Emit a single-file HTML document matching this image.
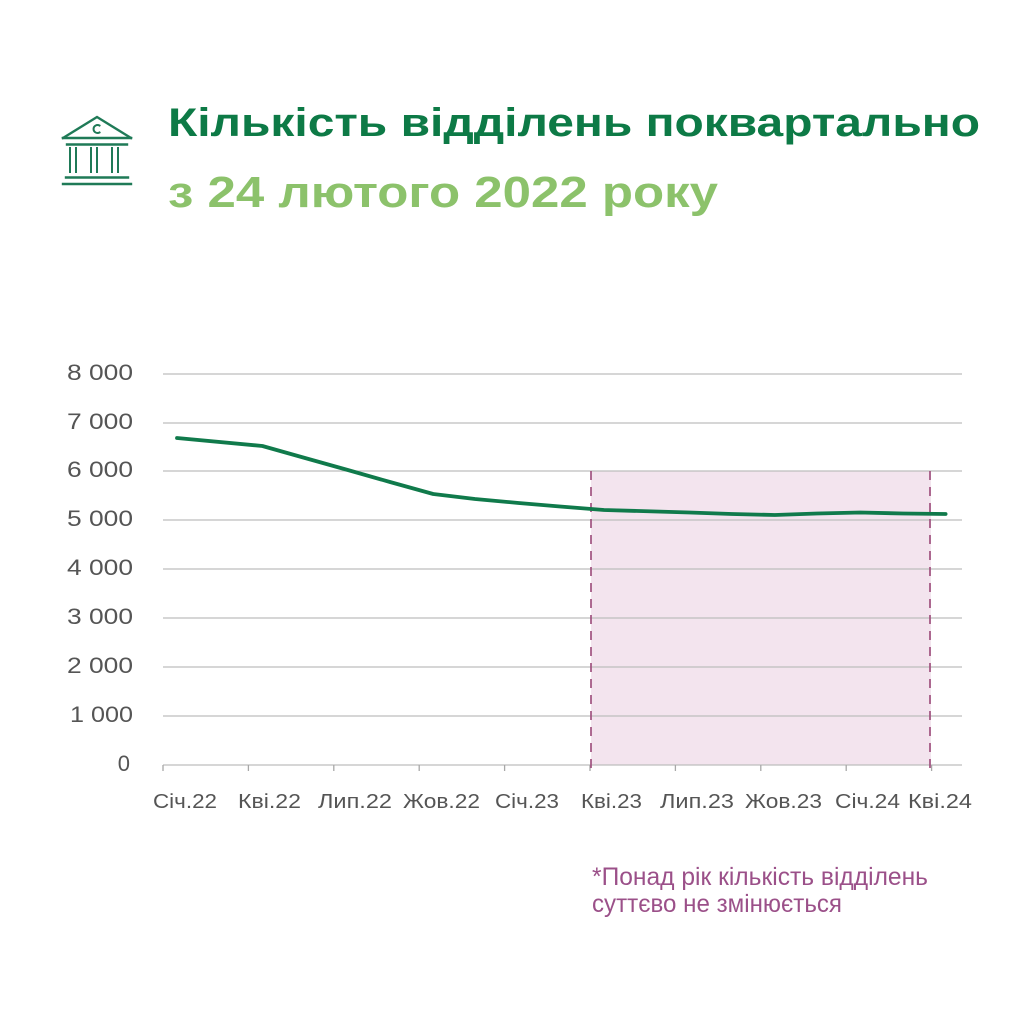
<!DOCTYPE html>
<html>
<head>
<meta charset="utf-8">
<style>
html,body{margin:0;padding:0;background:#fff;}
svg{display:block;}
text{font-family:"Liberation Sans", sans-serif;}
</style>
</head>
<body>
<svg width="1024" height="1024" viewBox="0 0 1024 1024" xmlns="http://www.w3.org/2000/svg">
<rect width="1024" height="1024" fill="#fff"/>

<!-- Icon -->
<g stroke="#1f7a57" fill="none" stroke-width="2.4" stroke-linecap="square">
  <polyline points="63,138 97,117 131,138"/>
  <line x1="63" y1="138" x2="131" y2="138"/>
  <line x1="67" y1="144.5" x2="127" y2="144.5"/>
  <path d="M99.5,125.5 A4,4 0 1 0 99.5,132.5" stroke-width="2"/>
  <g stroke-width="2">
    <line x1="70" y1="148" x2="70" y2="172"/><line x1="76" y1="148" x2="76" y2="172"/>
    <line x1="91" y1="148" x2="91" y2="172"/><line x1="97" y1="148" x2="97" y2="172"/>
    <line x1="112" y1="148" x2="112" y2="172"/><line x1="118" y1="148" x2="118" y2="172"/>
  </g>
  <line x1="66" y1="177.5" x2="128" y2="177.5"/>
  <line x1="63" y1="184" x2="131" y2="184"/>
</g>

<!-- Title -->
<text x="168" y="136" font-size="40" font-weight="bold" fill="#0d7a46" textLength="812" lengthAdjust="spacingAndGlyphs">Кількість відділень поквартально</text>
<text x="168" y="207" font-size="44" font-weight="bold" fill="#8cc26b" textLength="550" lengthAdjust="spacingAndGlyphs">з 24 лютого 2022 року</text>

<!-- Shaded region -->
<rect x="591" y="471" width="340" height="294" fill="#f3e4ee"/>

<!-- Gridlines -->
<g stroke="#bdbdbd" stroke-width="1.3">
  <line x1="163" y1="374" x2="962" y2="374"/>
  <line x1="163" y1="423" x2="962" y2="423"/>
  <line x1="163" y1="471" x2="962" y2="471"/>
  <line x1="163" y1="520" x2="962" y2="520"/>
  <line x1="163" y1="569" x2="962" y2="569"/>
  <line x1="163" y1="618" x2="962" y2="618"/>
  <line x1="163" y1="667" x2="962" y2="667"/>
  <line x1="163" y1="716" x2="962" y2="716"/>
  <line x1="163" y1="765" x2="962" y2="765"/>
</g>
<g stroke="#a8a8a8" stroke-width="1.3">
  <line x1="163" y1="765" x2="163" y2="771"/>
  <line x1="248.4" y1="765" x2="248.4" y2="771"/>
  <line x1="333.8" y1="765" x2="333.8" y2="771"/>
  <line x1="419.2" y1="765" x2="419.2" y2="771"/>
  <line x1="504.6" y1="765" x2="504.6" y2="771"/>
  <line x1="590" y1="765" x2="590" y2="771"/>
  <line x1="675.4" y1="765" x2="675.4" y2="771"/>
  <line x1="760.8" y1="765" x2="760.8" y2="771"/>
  <line x1="846.2" y1="765" x2="846.2" y2="771"/>
  <line x1="931.6" y1="765" x2="931.6" y2="771"/>
</g>

<!-- Dashed bounds -->
<g stroke="#a0527f" stroke-width="1.7" stroke-dasharray="9,7">
  <line x1="591" y1="471" x2="591" y2="771"/>
  <line x1="930" y1="471" x2="930" y2="771"/>
</g>

<!-- Y labels -->
<g font-size="22" fill="#555" text-anchor="end">
  <text x="133" y="380" textLength="66" lengthAdjust="spacingAndGlyphs">8 000</text>
  <text x="133" y="429" textLength="66" lengthAdjust="spacingAndGlyphs">7 000</text>
  <text x="133" y="477" textLength="66" lengthAdjust="spacingAndGlyphs">6 000</text>
  <text x="133" y="526" textLength="66" lengthAdjust="spacingAndGlyphs">5 000</text>
  <text x="133" y="575" textLength="66" lengthAdjust="spacingAndGlyphs">4 000</text>
  <text x="133" y="624" textLength="66" lengthAdjust="spacingAndGlyphs">3 000</text>
  <text x="133" y="673" textLength="66" lengthAdjust="spacingAndGlyphs">2 000</text>
  <text x="133" y="722" textLength="63" lengthAdjust="spacingAndGlyphs">1 000</text>
  <text x="130" y="771">0</text>
</g>

<!-- X labels -->
<g font-size="20" fill="#555">
  <text x="153" y="808" textLength="64" lengthAdjust="spacingAndGlyphs">Січ.22</text>
  <text x="238" y="808" textLength="63" lengthAdjust="spacingAndGlyphs">Кві.22</text>
  <text x="318" y="808" textLength="74" lengthAdjust="spacingAndGlyphs">Лип.22</text>
  <text x="403" y="808" textLength="77" lengthAdjust="spacingAndGlyphs">Жов.22</text>
  <text x="495" y="808" textLength="64" lengthAdjust="spacingAndGlyphs">Січ.23</text>
  <text x="581" y="808" textLength="61" lengthAdjust="spacingAndGlyphs">Кві.23</text>
  <text x="660" y="808" textLength="74" lengthAdjust="spacingAndGlyphs">Лип.23</text>
  <text x="745" y="808" textLength="77" lengthAdjust="spacingAndGlyphs">Жов.23</text>
  <text x="835" y="808" textLength="65" lengthAdjust="spacingAndGlyphs">Січ.24</text>
  <text x="908" y="808" textLength="64" lengthAdjust="spacingAndGlyphs">Кві.24</text>
</g>

<!-- Data line -->
<polyline fill="none" stroke="#107a4b" stroke-width="3.8" stroke-linejoin="round" stroke-linecap="round"
  points="177,438 262.4,446 305,458 347.8,470 390,482 433.2,494 475,499 518.6,503 560,506.5 604,510 689.4,512.5 732,514 774.8,515 817,513.5 860.2,512.5 903,513.5 945.6,514"/>

<!-- Footnote -->
<g font-size="25" fill="#9b5089">
  <text x="592" y="885" textLength="336" lengthAdjust="spacingAndGlyphs">*Понад рік кількість відділень</text>
  <text x="592" y="912" textLength="250" lengthAdjust="spacingAndGlyphs">суттєво не змінюється</text>
</g>
</svg>
</body>
</html>
